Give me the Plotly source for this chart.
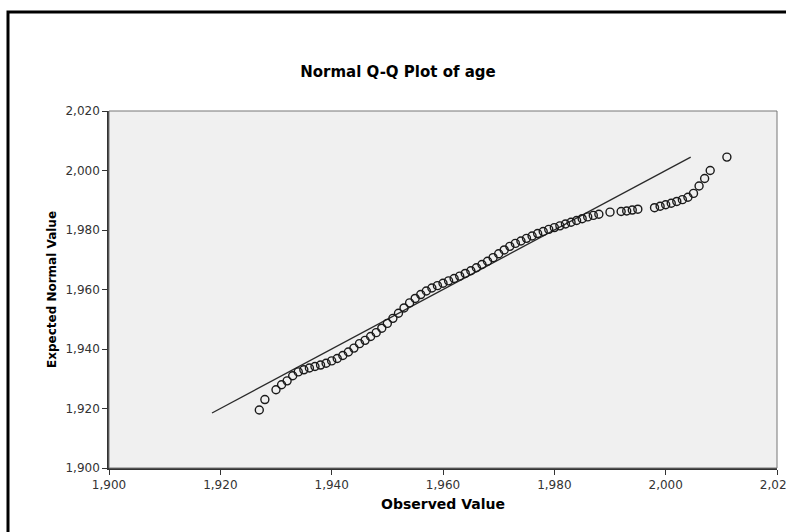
import plotly.graph_objects as go

# Observed values (years) and expected normal values
observed = [1927, 1928, 1930, 1931, 1932, 1933, 1934, 1935, 1936, 1937, 1938, 1939,
            1940, 1941, 1942, 1943, 1944, 1945, 1946, 1947, 1948, 1949, 1950, 1951,
            1952, 1953, 1954, 1955, 1956, 1957, 1958, 1959, 1960, 1961, 1962, 1963,
            1964, 1965, 1966, 1967, 1968, 1969, 1970, 1971, 1972, 1973, 1974, 1975,
            1976, 1977, 1978, 1979, 1980, 1981, 1982, 1983, 1984, 1985, 1986, 1987,
            1988, 1990, 1992, 1993, 1994, 1995, 1998, 1999, 2000, 2001, 2002, 2003,
            2004, 2005, 2006, 2007, 2008, 2011]
expected = [1919.5, 1923.0, 1926.3, 1928.0, 1929.3, 1931.0, 1932.3, 1933.0, 1933.6, 1934.1, 1934.6, 1935.2,
            1936.0, 1936.8, 1937.8, 1939.0, 1940.3, 1941.8, 1942.9, 1944.2, 1945.5, 1947.0, 1948.6, 1950.3,
            1952.0, 1953.8, 1955.5, 1957.0, 1958.3, 1959.5, 1960.5, 1961.3, 1962.1, 1962.9, 1963.7, 1964.5,
            1965.4, 1966.3, 1967.3, 1968.4, 1969.5, 1970.7, 1972.0, 1973.3, 1974.5, 1975.5, 1976.3, 1977.2,
            1978.0, 1978.8, 1979.5, 1980.2, 1980.8, 1981.4, 1982.0, 1982.6, 1983.2, 1983.8, 1984.4, 1984.9,
            1985.3, 1986.0, 1986.2, 1986.4, 1986.7, 1987.0, 1987.5, 1988.0, 1988.5, 1989.0, 1989.6, 1990.2,
            1991.0, 1992.3, 1994.8, 1997.3, 2000.0, 2004.5]
ref_line = [1918.5, 2004.5]
ticks = [1900, 1920, 1940, 1960, 1980, 2000, 2020]

FONT = "DejaVu Sans"

fig = go.Figure()
fig.add_trace(go.Scatter(x=ref_line, y=ref_line, mode="lines",
                         line=dict(color="#2a2a2a", width=1.3), hoverinfo="skip"))
fig.add_trace(go.Scatter(x=observed, y=expected, mode="markers",
                         marker=dict(symbol="circle-open", size=8, color="#1a1a1a",
                                     line=dict(width=1.4, color="#1a1a1a"))))

L, R, T, B = 109, 9, 111, 64
W, H = 786, 532
pw, ph = W - L - R, H - T - B

axis_common = dict(range=[1900, 2020], tickvals=ticks, tickformat=",d",
                   showgrid=False, zeroline=False, showline=True, linecolor="#333333",
                   linewidth=1.5, ticks="outside", ticklen=5, tickcolor="#333333",
                   tickwidth=1.2, ticklabeloverflow="allow", automargin=False,
                   tickfont=dict(family=FONT, size=12, color="#333333"))

fig.update_layout(
    width=W, height=H,
    margin=dict(l=L, r=R, t=T, b=B, autoexpand=False),
    paper_bgcolor="white", plot_bgcolor="#f0f0f0",
    showlegend=False,
    title=dict(text="<b>Normal Q-Q Plot of age</b>", x=(398 / W), xanchor="center",
               y=1 - 72 / H, yanchor="middle",
               font=dict(family=FONT, size=15, color="black")),
    xaxis=dict(**axis_common,
               title=dict(text="<b>Observed Value</b>", standoff=8,
                          font=dict(family=FONT, size=14, color="black"))),
    yaxis=dict(**axis_common,
               title=dict(text="<b>Expected Normal Value</b>", standoff=6,
                          font=dict(family=FONT, size=12, color="black"))),
    shapes=[
        dict(type="rect", xref="paper", yref="paper", x0=0, x1=1, y0=0, y1=1,
             line=dict(color="#777777", width=1), layer="above"),
        dict(type="rect", xref="paper", yref="paper",
             x0=(8 - L) / pw, x1=(W + 20 - L) / pw,
             y0=-(H + 20 - T - ph) / ph, y1=1 + (T - 12) / ph,
             line=dict(color="black", width=3)),
    ],
)

fig.write_html("out.html")
